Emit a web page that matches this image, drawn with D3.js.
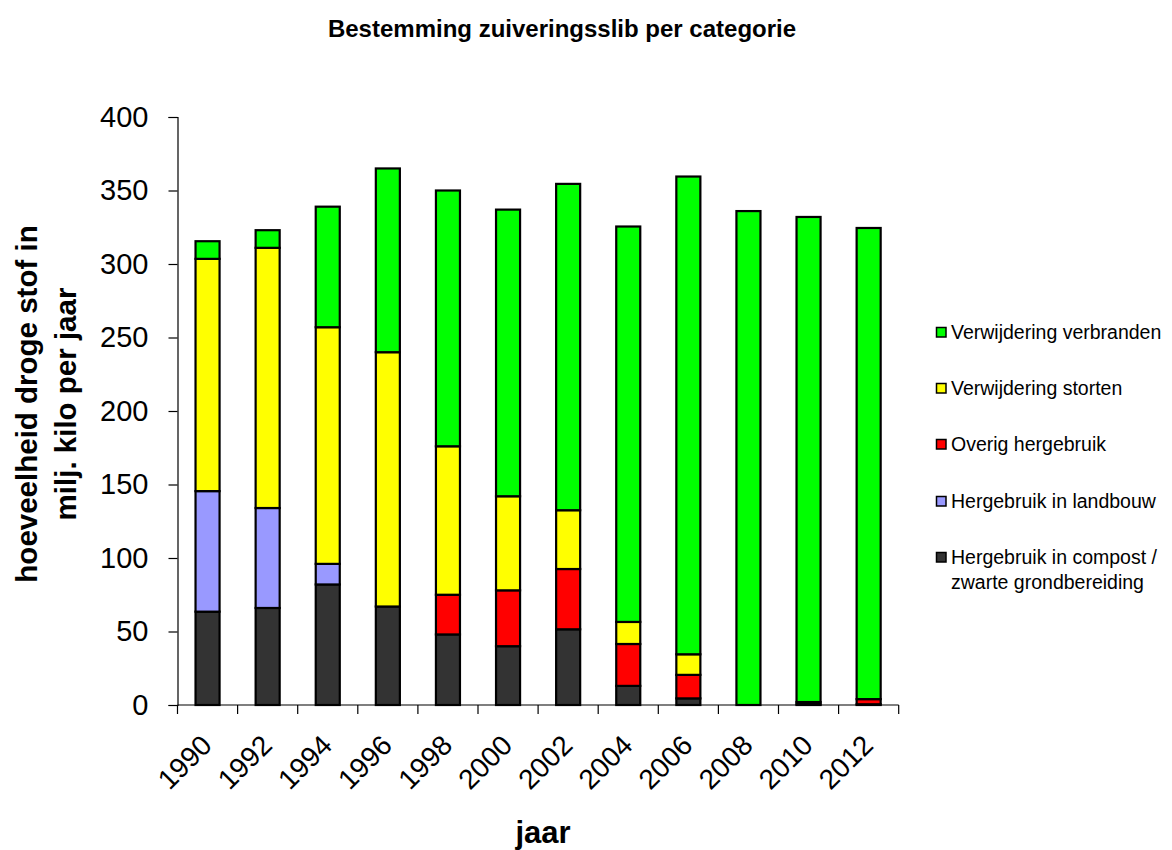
<!DOCTYPE html>
<html>
<head>
<meta charset="utf-8">
<script src="https://cdn.jsdelivr.net/npm/d3@7"></script>
<style>
  body { margin: 0; background: #fff; }
  svg { display: block; font-family: "Liberation Sans", Arial, sans-serif; }
</style>
</head>
<body>
<svg id="chart" width="1172" height="850"></svg>
<script>
const years = ["1990","1992","1994","1996","1998","2000","2002","2004","2006","2008","2010","2012"];
const compost    = [63.5, 66, 82, 67, 48, 40, 51.5, 13, 4.5, 0, 0.5, 0.5];
const landbouw   = [82, 68, 14, 0, 0, 0, 0, 0, 0, 0, 0, 0];
const overig     = [0, 0, 0, 0, 27, 38, 41, 28.5, 16, 0, 1.5, 3.5];
const storten    = [158, 177, 161, 173, 101, 64, 40, 15, 14, 0, 0, 0];
const verbranden = [12, 12, 82, 125, 174, 195, 222, 269, 325, 336, 330, 320.5];
const yTicks = [0, 50, 100, 150, 200, 250, 300, 350, 400];

const seriesDefs = [
  { key: "compost",    name: ["Hergebruik in compost /", "zwarte grondbereiding"], values: compost,    color: "#333333" },
  { key: "landbouw",   name: ["Hergebruik in landbouw"],   values: landbouw,   color: "#9999ff" },
  { key: "overig",     name: ["Overig hergebruik"],        values: overig,     color: "#ff0000" },
  { key: "storten",    name: ["Verwijdering storten"],     values: storten,    color: "#ffff00" },
  { key: "verbranden", name: ["Verwijdering verbranden"],  values: verbranden, color: "#00ff00" }
];

const table = years.map((yr, i) => {
  const row = { year: yr };
  seriesDefs.forEach(s => row[s.key] = s.values[i]);
  return row;
});
const stack = d3.stack().keys(seriesDefs.map(s => s.key))(table);

const svg = d3.select("#chart");
const plotL = 177.5, plotR = 898.7, plotT = 117, plotB = 705;

const x = d3.scaleBand().domain(years).range([plotL, plotR]).paddingInner(0.6).paddingOuter(0.3);
const y = d3.scaleLinear().domain([0, 400]).range([plotB, plotT]);

// title
svg.append("text").attr("x", 562).attr("y", 37).attr("text-anchor", "middle")
  .attr("font-size", 24).attr("font-weight", "bold").text("Bestemming zuiveringsslib per categorie");

// bars
const g = svg.append("g");
stack.forEach((layer, li) => {
  g.append("g").selectAll("rect").data(layer).join("rect")
    .attr("x", d => x(d.data.year))
    .attr("width", x.bandwidth())
    .attr("y", d => y(d[1]))
    .attr("height", d => y(d[0]) - y(d[1]))
    .attr("fill", seriesDefs[li].color)
    .attr("stroke", "#000").attr("stroke-width", 2.2)
    .attr("display", d => (d[1] - d[0]) > 0 ? null : "none");
});

// y axis
const yAxis = d3.axisLeft(y).tickValues(yTicks).tickSize(9).tickPadding(20);
const ya = svg.append("g").attr("transform", `translate(${plotL},0)`).call(yAxis);
ya.select(".domain").attr("stroke", "#000").attr("stroke-width", 1.2);
ya.selectAll(".tick line").attr("stroke", "#000").attr("stroke-width", 1.2);
ya.selectAll(".tick text").attr("font-size", 29).attr("fill", "#000")
  .attr("font-family", "Liberation Sans, Arial, sans-serif");

// x axis line and ticks at band boundaries
const step = x.step();
const xa = svg.append("g");
xa.append("line").attr("x1", plotL).attr("x2", plotR).attr("y1", plotB).attr("y2", plotB)
  .attr("stroke", "#000").attr("stroke-width", 1.2);
xa.selectAll("line.tk").data(d3.range(years.length + 1)).join("line").attr("class", "tk")
  .attr("x1", i => plotL + i * step).attr("x2", i => plotL + i * step)
  .attr("y1", plotB).attr("y2", plotB + 9)
  .attr("stroke", "#000").attr("stroke-width", 1.2);
xa.selectAll("text").data(years).join("text")
  .attr("transform", d => `translate(${x(d) + x.bandwidth() / 2 + 6},${plotB + 42}) rotate(-45)`)
  .attr("text-anchor", "end").attr("font-size", 28).attr("fill", "#000")
  .text(d => d);

// axis titles
svg.append("text").attr("x", 543).attr("y", 843).attr("text-anchor", "middle")
  .attr("font-size", 31).attr("font-weight", "bold").text("jaar");
svg.append("text").attr("transform", "translate(37,404) rotate(-90)")
  .attr("text-anchor", "middle").attr("font-size", 29.5).attr("font-weight", "bold")
  .text("hoeveelheid droge stof in");
svg.append("text").attr("transform", "translate(76,404) rotate(-90)")
  .attr("text-anchor", "middle").attr("font-size", 29.5).attr("font-weight", "bold")
  .text("milj. kilo per jaar");

// legend
const legendY = [332, 388, 444, 501, 557];
const legendOrder = seriesDefs.slice().reverse();
const lg = svg.append("g");
legendOrder.forEach((s, i) => {
  const gy = legendY[i];
  lg.append("rect").attr("x", 936.5).attr("y", gy - 4.5).attr("width", 9.5).attr("height", 9.5)
    .attr("fill", s.color).attr("stroke", "#000").attr("stroke-width", 1.5);
  s.name.forEach((line, j) => {
    lg.append("text").attr("x", 951).attr("y", gy + 7 + j * 25)
      .attr("font-size", 19.5).attr("fill", "#000").text(line);
  });
});
</script>
</body>
</html>
